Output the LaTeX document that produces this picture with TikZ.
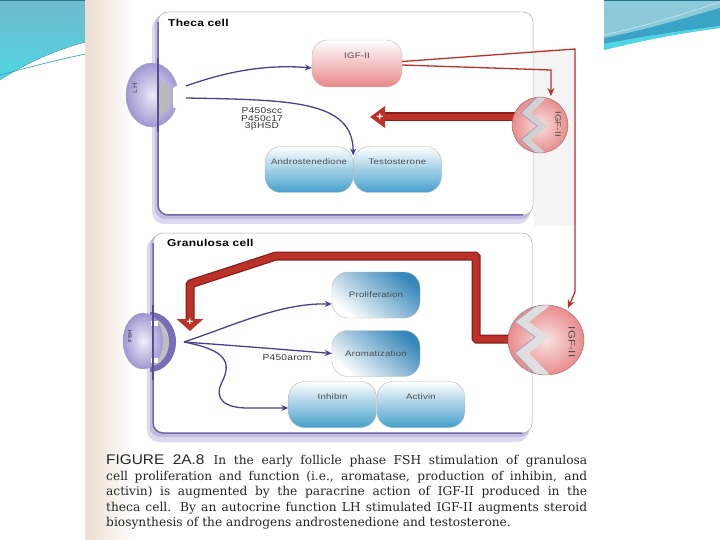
\documentclass[tikz,border=0pt]{standalone}
\usepackage{fontspec}
\usepackage{tikz}
\usetikzlibrary{arrows.meta,positioning}
\setmainfont{DejaVu Serif}
\newfontfamily\lblfont[FakeStretch=1.2,LetterSpace=3]{Liberation Sans}
\newfontfamily\capsans[FakeStretch=1.1]{Liberation Sans}
\definecolor{SlideTeal}{RGB}{112,186,206}
\definecolor{SlideTealLight}{RGB}{78,214,226}
\definecolor{SlideTealPale}{RGB}{140,202,218}
\definecolor{SlideTealDark}{RGB}{58,164,198}
\definecolor{ScanCream}{RGB}{236,222,208}
\definecolor{MembranePurple}{RGB}{85,78,150}
\definecolor{ShadowLav}{RGB}{192,188,224}
\definecolor{ArrowPurple}{RGB}{72,66,140}
\definecolor{BoxBlue}{RGB}{70,160,205}
\definecolor{SlantBlue}{RGB}{55,135,185}
\definecolor{BoxPink}{RGB}{232,135,135}
\definecolor{SignalRed}{RGB}{188,50,40}
\definecolor{SignalRedDark}{RGB}{135,30,25}
\definecolor{RecPink}{RGB}{232,140,140}
\definecolor{RecLav}{RGB}{158,152,210}
\definecolor{FshCrescent}{RGB}{118,110,182}

\begin{document}
\begin{tikzpicture}[x=1pt,y=-1pt,
  cellbox/.style={rounded corners=16pt,minimum width=88pt,minimum height=46pt,inner sep=0pt,
    draw=gray!55,line width=0.4pt,text=black!70,font=\lblfont\fontsize{8}{9.5}\selectfont},
  toptext/.style={text depth=16pt},
  bluebox/.style={cellbox,top color=white,bottom color=BoxBlue},
  slantbox/.style={cellbox,top color=SlantBlue,bottom color=white,shading angle=-40},
  pinkbox/.style={cellbox,top color=white,bottom color=BoxPink},
  celltitle/.style={anchor=west,inner sep=0pt,font=\lblfont\bfseries\fontsize{10}{11}\selectfont},
  reclabel/.style={inner sep=0pt,text=black!70,font=\lblfont\fontsize{8}{9}\selectfont},
  enzlabel/.style={inner sep=0pt,align=center,text=black!80,font=\lblfont\fontsize{8.5}{7.5}\selectfont},
  sigline/.style={ArrowPurple,line width=1.3pt,-{Stealth[length=7pt,width=6pt]}},
  redthin/.style={SignalRed,line width=1.3pt},
  redback/.style={SignalRedDark,line width=9pt},
  redthick/.style={SignalRed,line width=6.5pt},
  plussign/.style={text=white,inner sep=0pt,font=\capsans\bfseries\fontsize{11}{11}\selectfont}
]
\useasboundingbox (0,0) rectangle (720,540);
\fill[white] (0,0) rectangle (720,540);

% slide swoosh
\fill[top color=SlideTeal,bottom color=SlideTealLight]
  (0,0) -- (86,0) -- (86,42) .. controls (55,50) and (25,64) .. (0,80) -- cycle;
\draw[SlideTealDark,line width=0.7pt] (0,75) .. controls (30,67) and (60,59) .. (86,54);
\fill[SlideTealPale] (604,0) -- (720,0) -- (720,28) .. controls (680,33) and (640,41) .. (604,50) -- cycle;
\fill[SlideTealDark] (604,38) .. controls (645,30) and (685,18) .. (720,8)
  -- (720,26) .. controls (680,31) and (640,37) .. (604,44) -- cycle;
\fill[SlideTealLight] (604,44) .. controls (640,37) and (680,31) .. (720,26)
  -- (720,28) .. controls (680,33) and (640,41) .. (604,50) -- cycle;
\draw[white!60!SlideTealPale,line width=0.5pt] (604,35) .. controls (650,25) and (690,12) .. (720,2);
\draw[SlideTealDark!70!black,line width=0.8pt] (0,0.4) -- (86,0.4) (604,0.4) -- (720,0.4);

% scanned page
\fill[left color=ScanCream,right color=white] (85,0) rectangle (135,540);
\fill[white] (135,0) rectangle (604,540);
\fill[gray!9] (534,49) rectangle (576,226);

% cell shadows
\fill[ShadowLav!55,rounded corners=12pt] (152,16) rectangle (530,224);
\fill[ShadowLav,rounded corners=10pt] (155,14) rectangle (531,219);
\fill[ShadowLav!55,rounded corners=12pt] (147,237) rectangle (529,442);
\fill[ShadowLav,rounded corners=10pt] (150,235) rectangle (530,437);

% theca cell
\filldraw[fill=white,draw=gray!65,line width=0.5pt,rounded corners=10pt] (158,12) rectangle (533,215);
\draw[MembranePurple!85,line width=1.5pt,rounded corners=10pt] (158,22) -- (158,215) -- (523,215);
\node[celltitle] (thecaT) at (168,23) {Theca cell};

% granulosa cell
\filldraw[fill=white,draw=gray!65,line width=0.5pt,rounded corners=10pt] (153,233) rectangle (532,433);
\draw[MembranePurple!85,line width=1.5pt,rounded corners=10pt] (153,243) -- (153,433) -- (522,433);
\node[celltitle] (granT) at (167,243) {Granulosa cell};

% products
\node[pinkbox,minimum width=90pt,minimum height=47pt,toptext] (igfT) at (357,63.5) {IGF-II};
\node[bluebox,toptext] (andro) at (309,169.5) {Androstenedione};
\node[bluebox,toptext,right=0pt of andro] (testo) {Testosterone};
\node[slantbox] (prolif) at (376,295) {Proliferation};
\node[slantbox] (aromat) at (376,353.5) {Aromatization};
\node[bluebox,toptext] (inhib) at (332.5,404.5) {Inhibin};
\node[bluebox,toptext,right=0pt of inhib] (activ) {Activin};

% thick red signals
\coordinate (igfRTw) at (520,117);
\coordinate (thecaTip) at (370,117);
\coordinate (igfRGw) at (515,339);
\coordinate (granTip) at (190,331);
\draw[redback,shorten >=10pt] (igfRTw) -- (thecaTip);
\draw[redthick,-{Triangle[length=15pt,width=21pt]}] (igfRTw) -- (thecaTip);
\node[plussign] (plusT) at (380,117) {+};
\draw[redback,rounded corners=1pt,shorten >=8pt] (igfRGw) -- (476,339) -- (476,256) -- (276,256) -- (190,284) -- (granTip);
\draw[redthick,rounded corners=1pt,-{Triangle[length=12pt,width=26pt]}] (igfRGw) -- (476,339) -- (476,256) -- (276,256) -- (190,284) -- (granTip);
\node[plussign] (plusG) at (190,322) {+};

% LH receptor
\coordinate (lhR) at (152,95);
\shade[inner color=RecLav!20,outer color=RecLav] (lhR) ellipse[x radius=26pt,y radius=32pt];
\draw[MembranePurple!50,line width=0.5pt] (lhR) ellipse[x radius=26pt,y radius=32pt];
\fill[gray!55] (158,78) -- (166,84) -- (170,88) -- (170,107) -- (166,111) -- (158,117) -- cycle;
\fill[white] (183,82) -- (173,88) -- (173,107) -- (183,113) -- cycle;
\draw[MembranePurple,line width=1.6pt] (158,58) -- (158,132);
\node[reclabel,rotate=90,font=\lblfont\fontsize{6.5}{7}\selectfont] (lhL) at (135,88) {LH};

% FSH receptor
\coordinate (fshR) at (150,342);
\fill[FshCrescent] (150,312) arc[start angle=90,end angle=-90,x radius=26pt,y radius=30pt] -- cycle;
\fill[gray!50] (150,318) arc[start angle=90,end angle=-90,x radius=19pt,y radius=24pt] -- cycle;
\shade[inner color=RecLav!15,outer color=RecLav] (143,341) ellipse[x radius=20pt,y radius=28pt];
\draw[MembranePurple!50,line width=0.5pt] (143,341) ellipse[x radius=20pt,y radius=28pt];
\fill[white] (151,321) rectangle (158,326);
\fill[white] (151,358) rectangle (158,363);
\draw[MembranePurple,line width=1.6pt] (153,305) -- (153,380);
\node[reclabel,rotate=90,font=\lblfont\bfseries\fontsize{5}{6}\selectfont] (fshL) at (130,336) {FSH};

% IGF-II receptor, theca
\coordinate (igfRT) at (540,125);
\begin{scope}
  \clip (igfRT) circle[radius=28pt];
  \shade[inner color=RecPink!25,outer color=RecPink] (igfRT) circle[radius=28pt];
  \fill[gray!35] (538,96) -- (521,113) -- (537,126) -- (521,140) -- (538,155)
    -- (548,155) -- (531,140) -- (547,126) -- (531,113) -- (548,96) -- cycle;
  \draw[MembranePurple!55,line width=0.8pt] (538,96) -- (521,113) -- (537,126) -- (521,140) -- (538,155);
\end{scope}
\draw[RecPink!70!black,line width=0.4pt] (igfRT) circle[radius=28pt];
\node[reclabel,rotate=-90] (igfRTL) at (558,124) {IGF-II};

% IGF-II receptor, granulosa
\coordinate (igfRG) at (546,340);
\begin{scope}
  \clip (igfRG) ellipse[x radius=38pt,y radius=35pt];
  \shade[inner color=RecPink!25,outer color=RecPink] (igfRG) ellipse[x radius=38pt,y radius=35pt];
  \fill[gray!25] (538,304) -- (515,322) -- (535,337) -- (515,353) -- (537,376)
    -- (551,376) -- (529,353) -- (549,337) -- (529,322) -- (552,304) -- cycle;
  \draw[MembranePurple!55,line width=0.8pt] (538,304) -- (515,322) -- (535,337) -- (515,353) -- (537,376);
\end{scope}
\draw[RecPink!70!black,line width=0.4pt] (igfRG) ellipse[x radius=38pt,y radius=35pt];
\node[reclabel,rotate=-90,font=\lblfont\fontsize{9.5}{10}\selectfont] (igfRGL) at (572,342) {IGF-II};

% thin red signals
\coordinate (igfRTtop) at (551,96);
\coordinate (igfRGtop) at (568,308);
\draw[redthin,-{Stealth[length=8pt,width=7pt]}] ([yshift=2pt]igfT.east) -- (575,49) -- (575,292) -- (igfRGtop);
\draw[redthin,-{Stealth[length=8pt,width=7pt]}] ([yshift=-1.5pt]igfT.east) -- (551,70) -- (igfRTtop);

% LH signalling
\coordinate (lhOut1) at (186,86);
\coordinate (lhOut2) at (186,98);
\draw[sigline] (lhOut1) .. controls (225,72) and (265,64) .. ([yshift=-4.5pt]igfT.west);
\draw[sigline] (lhOut2) .. controls (290,100) and (353,100) .. ([yshift=14pt]andro.east);
\node[enzlabel] (enzT) at (262,119) {P450scc\\P450c17\\3βHSD};

% FSH signalling
\coordinate (fshOut) at (184,342);
\draw[sigline] (fshOut) .. controls (235,325) and (280,303) .. ([yshift=-9pt]prolif.west);
\draw[sigline] (fshOut) .. controls (240,346) and (290,350) .. (aromat.west);
\draw[sigline] (fshOut) .. controls (226,350) and (232,362) .. (222,382)
  .. controls (213,400) and (226,408) .. (248,408) -- ([yshift=-3.5pt]inhib.west);
\node[enzlabel] (enzG) at (287,358) {P450arom};

% caption
\node[anchor=north west,text width=481pt,align=justify,inner sep=0pt,text=black!85,
  font=\fontsize{12.2}{15.5}\selectfont] (capt) at (106,455)
  {{\capsans\fontsize{14}{15.5}\selectfont FIGURE 2A.8}\hspace{9pt}In the early follicle phase FSH stimulation of granulosa\linebreak
   cell proliferation and function (i.e., aromatase, production of inhibin, and\linebreak
   activin) is augmented by the paracrine action of IGF-II produced in the\linebreak
   theca cell. By an autocrine function LH stimulated IGF-II augments steroid\linebreak
   biosynthesis of the androgens androstenedione and testosterone.};
\end{tikzpicture}
\end{document}
